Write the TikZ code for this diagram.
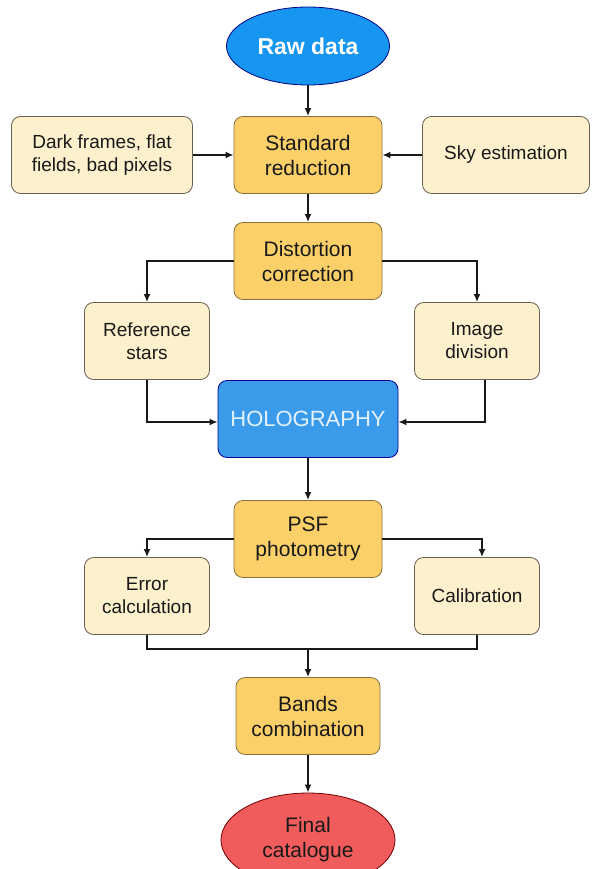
\documentclass[tikz,border=0pt]{standalone}
\usepackage{fontspec}
\setmainfont{Liberation Sans}
\usepackage{tikz}
\usetikzlibrary{shapes.geometric, calc}
\usepackage{xcolor}
\definecolor{rawblue}{RGB}{22, 150, 240}
\definecolor{holoblue}{RGB}{58, 155, 235}
\definecolor{stepfill}{RGB}{252, 208, 105}
\definecolor{stepline}{RGB}{140, 112, 60}
\definecolor{infofill}{RGB}{253, 240, 205}
\definecolor{infoline}{RGB}{105, 95, 80}
\definecolor{finalred}{RGB}{240, 92, 92}
\definecolor{holotext}{RGB}{228, 242, 255}
\usetikzlibrary{arrows.meta}

\begin{document}
\begin{tikzpicture}[x=1pt, y=-1pt,
    stepbox/.style={rectangle, rounded corners=9pt, draw=stepline, line width=0.8pt, fill=stepfill, text=black!90, align=center, inner sep=0pt, minimum width=148pt, minimum height=77pt, font=\fontsize{21}{25}\selectfont},
    infobox/.style={rectangle, rounded corners=9pt, draw=infoline, line width=0.8pt, fill=infofill, text=black!90, align=center, inner sep=0pt, minimum width=125pt, minimum height=77pt, font=\fontsize{19}{23}\selectfont},
    flow/.style={draw=black!90, line width=1.8pt, -{Latex[length=8pt, width=7pt]}}]
        \useasboundingbox (0,0) rectangle (593,869);
        \node (raw) [ellipse, draw=blue!50!black, line width=0.8pt, fill=rawblue, text=white, inner sep=0pt, minimum width=163pt, minimum height=78pt, font=\fontsize{23}{27}\selectfont\bfseries] at (308, 46) {Raw data};
        \node (stdred) [stepbox] at (308, 155) {Standard\\reduction};
        \node (dark) [infobox, minimum width=181pt] at (102, 155) {Dark frames, flat\\fields, bad pixels};
        \node (sky) [infobox, minimum width=167pt] at (506, 155) {Sky estimation};
        \node (distort) [stepbox] at (308, 261) {Distortion\\correction};
        \node (refstars) [infobox] at (147, 341) {Reference\\stars};
        \node (imgdiv) [infobox] at (477, 341) {Image\\division};
        \node (holo) [rectangle, rounded corners=9pt, draw=blue!55!black, line width=0.8pt, fill=holoblue, text=holotext, inner sep=0pt, minimum width=180pt, minimum height=77pt, font=\fontsize{22}{26}\selectfont] at (308, 419) {HOLOGRAPHY};
        \node (psf) [stepbox] at (308, 539) {PSF\\photometry};
        \node (errcalc) [infobox] at (147, 596) {Error\\calculation};
        \node (calib) [infobox] at (477, 596) {Calibration};
        \node (bands) [stepbox, minimum width=144pt] at (308, 716) {Bands\\combination};
        \node (final) [ellipse, draw=red!45!black, line width=0.8pt, fill=finalred, text=black!90, align=center, inner sep=0pt, minimum width=174pt, minimum height=94pt, font=\fontsize{21}{25}\selectfont] at (308, 840) {Final\\catalogue};
        \coordinate (merge) at (308, 649);

        \draw[flow] (raw) -- (stdred);
        \draw[flow] (dark) -- (stdred);
        \draw[flow] (sky) -- (stdred);
        \draw[flow] (stdred) -- (distort);
        \draw[flow] (distort.west) -| (refstars.north);
        \draw[flow] (distort.east) -| (imgdiv.north);
        \draw[flow] (refstars.south) |- ($(holo.west) + (0,3)$);
        \draw[flow] ($(imgdiv.south) + (8,0)$) |- ($(holo.east) + (0,3)$);
        \draw[flow] (holo) -- (psf);
        \draw[flow] (psf.west) -| (errcalc.north);
        \draw[flow] (psf.east) -| ($(calib.north) + (5,0)$);
        \draw[draw=black!90, line width=1.8pt] (errcalc.south) |- (merge) -| (calib.south);
        \draw[flow] (merge) -- (bands);
        \draw[flow] (bands) -- (final);
    \end{tikzpicture}
\end{document}
